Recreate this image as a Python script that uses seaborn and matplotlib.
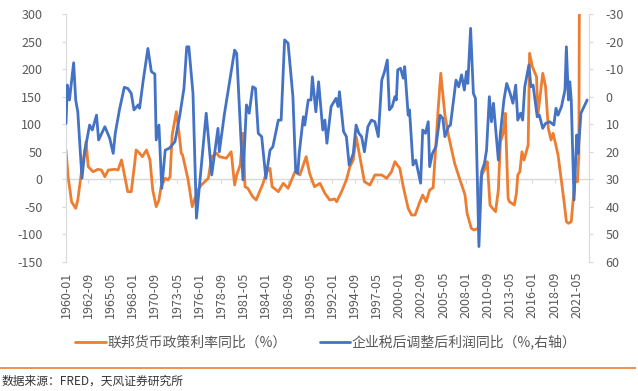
import pandas as pd
import matplotlib
matplotlib.use('Agg')
import matplotlib.pyplot as plt
import matplotlib.dates as mdates
from matplotlib.lines import Line2D
import seaborn as sns

# 联邦货币政策利率同比 (左轴, %)
rate_dates = ['1960-01', '1960-04', '1960-09', '1961-03', '1961-06', '1961-11', '1962-06', '1962-09',
              '1963-04', '1963-11', '1964-04', '1964-09', '1965-02', '1965-11', '1966-04', '1966-09',
              '1967-06', '1967-11', '1968-04', '1968-06', '1968-11', '1969-03', '1969-09', '1970-02',
              '1970-06', '1970-11', '1971-03', '1971-06', '1971-12', '1972-04', '1972-07', '1972-10',
              '1973-04', '1973-08', '1973-11', '1974-01', '1974-09', '1975-03', '1975-06', '1975-11',
              '1976-04', '1976-09', '1977-02', '1977-07', '1978-02', '1978-06', '1979-04', '1979-11',
              '1980-04', '1980-07', '1980-12', '1981-04', '1981-07', '1981-11', '1982-06', '1982-11',
              '1983-09', '1984-02', '1984-07', '1984-10', '1985-07', '1986-02', '1986-09', '1987-07',
              '1988-02', '1988-11', '1989-04', '1989-11', '1990-07', '1991-02', '1991-09', '1992-04',
              '1992-07', '1993-02', '1993-09', '1994-02', '1994-07', '1994-11', '1995-04', '1995-11',
              '1996-07', '1997-02', '1997-12', '1998-07', '1999-02', '1999-07', '2000-02', '2000-07',
              '2001-02', '2001-07', '2001-12', '2002-07', '2002-11', '2003-04', '2003-09', '2004-02',
              '2004-05', '2004-09', '2005-01', '2005-07', '2005-12', '2006-09', '2007-04', '2007-12',
              '2008-03', '2008-09', '2009-01', '2009-07', '2009-11', '2010-05', '2010-08', '2010-12',
              '2011-03', '2011-08', '2011-12', '2012-03', '2012-07', '2012-10', '2013-02', '2013-04',
              '2013-11', '2014-02', '2014-04', '2014-07', '2014-10', '2015-01', '2015-07', '2015-09',
              '2016-01', '2016-07', '2016-09', '2017-04', '2017-08', '2017-12', '2018-04', '2018-07',
              '2019-02', '2019-07', '2019-11', '2020-02', '2020-05', '2020-09', '2020-12', '2021-03',
              '2021-06', '2021-08', '2021-11']
rate_yoy = [53.2, 4.8, -40.6, -52.6, -37.5, 10.9, 68.3, 22.9,
            13.8, 18.2, 16.9, 4.8, 16.9, 18.2, 16.9, 35.1,
            -22.4, -22.4, 29.1, 53.2, 47.3, 41.1, 53.2, 35.1,
            -19.4, -49.6, -37.5, -13.4, 1.9, -1.2, 4.8, 80.4,
            122.7, 83.5, 47.3, 44.2, -1.2, -49.6, -37.5, -19.4,
            -10.3, -4.3, 1.9, 41.1, 47.3, 41.1, 38.2, 50.1,
            -10.3, 7.9, 26.0, 83.5, -13.4, -16.3, -31.5, -37.5,
            -7.2, 13.8, 19.9, -13.4, -22.4, -7.2, -16.3, 13.8,
            7.9, 41.1, 10.9, -13.4, -7.2, -25.3, -37.5, -35.7,
            -40.6, -22.4, -1.2, 22.9, 35.1, 77.4, 44.2, -4.3,
            -10.3, 7.9, 7.9, 1.9, 13.8, 32.0, 19.9, -13.4,
            -52.6, -64.7, -64.7, -40.6, -28.4, -40.6, -19.4, -15.2,
            44.2, 122.7, 192.4, 116.7, 80.4, 29.1, 1.9, -28.4,
            -61.7, -88.9, -91.9, -88.9, 5.0, 19.9, 32.0, -46.6,
            -51.5, -58.7, -19.4, 68.3, 83.5, 119.8, -34.4, -40.6,
            -46.6, -25.3, 7.9, 13.8, 50.1, 35.1, 62.3, 228.7,
            204.4, 186.2, 116.7, 192.4, 168.1, 92.6, 71.4, 83.5,
            44.2, -4.3, -43.5, -76.9, -79.8, -76.9, -34.4, 1.9,
            -4.3, 44.2, 1200]

# 企业税后调整后利润同比 (右轴, %, 逆序)
profit_dates = ['1960-01', '1960-03', '1960-06', '1960-12', '1961-03', '1961-06', '1961-12', '1962-04',
                '1962-11', '1963-03', '1963-09', '1963-12', '1964-09', '1965-04', '1965-09', '1965-12',
                '1966-06', '1967-01', '1967-06', '1967-11', '1968-03', '1968-09', '1968-11', '1969-04',
                '1969-11', '1970-04', '1970-09', '1970-11', '1971-03', '1971-07', '1971-12', '1972-06',
                '1973-02', '1973-09', '1974-03', '1974-07', '1974-10', '1975-04', '1975-09', '1976-11',
                '1977-07', '1978-04', '1978-06', '1979-01', '1980-04', '1980-07', '1981-04', '1981-09',
                '1982-01', '1982-06', '1982-10', '1983-02', '1983-07', '1984-01', '1984-07', '1984-11',
                '1985-07', '1985-11', '1986-04', '1986-09', '1987-04', '1987-08', '1987-11', '1988-01',
                '1988-07', '1988-09', '1989-02', '1989-06', '1989-08', '1990-01', '1990-05', '1990-11',
                '1991-02', '1991-05', '1991-11', '1992-06', '1992-09', '1992-11', '1993-05', '1993-09',
                '1994-01', '1994-07', '1994-11', '1995-03', '1995-07', '1995-11', '1996-04', '1996-09',
                '1997-02', '1997-07', '1997-12', '1998-04', '1998-08', '1998-11', '1999-03', '1999-07',
                '1999-09', '1999-11', '2000-03', '2000-07', '2000-09', '2001-02', '2001-04', '2001-09',
                '2002-01', '2002-03', '2002-08', '2002-11', '2003-03', '2003-07', '2003-09', '2004-01',
                '2004-06', '2004-12', '2005-04', '2005-07', '2005-12', '2006-03', '2006-11', '2007-03',
                '2007-07', '2007-11', '2008-02', '2008-04', '2008-08', '2008-12', '2009-03', '2009-08',
                '2009-12', '2010-04', '2010-07', '2010-11', '2011-02', '2011-05', '2011-12', '2012-03',
                '2012-08', '2012-12', '2013-05', '2013-09', '2014-01', '2014-04', '2014-08', '2014-11',
                '2015-02', '2015-08', '2015-11', '2016-02', '2016-08', '2016-11', '2017-04', '2017-08',
                '2018-02', '2018-08', '2018-11', '2019-02', '2019-07', '2019-12', '2020-02', '2020-05',
                '2020-07', '2020-09', '2021-01', '2021-05', '2021-07', '2021-11', '2022-08']
profit_yoy = [9.7, -4.2, 1.2, -12.3, 1.2, 5.5, 29.6, 20.0,
              10.3, 12.1, 6.7, 15.7, 10.9, 15.1, 20.6, 13.3,
              4.8, -3.4, -3.0, -1.2, 4.8, 3.0, 4.2, -5.4,
              -17.5, -9.1, -8.2, 15.7, 10.3, 33.3, 19.4, 18.7,
              16.3, 6.7, -3.0, -18.1, -18.1, -1.2, 44.1, 6.0,
              28.4, 11.5, 20.0, 6.7, -16.9, -15.7, 30.2, 3.0,
              6.0, -3.6, -3.0, 13.3, 14.5, 29.6, 19.4, 18.2,
              8.5, 8.5, -20.6, -19.4, 0.0, 27.2, 27.8, 20.6,
              7.3, 10.3, 1.2, 1.2, -7.2, 5.5, -5.4, 12.1,
              8.5, 16.9, 3.6, 0.6, 3.6, -1.8, 12.7, 14.5,
              24.8, 20.6, 10.3, 13.3, 14.5, 20.0, 10.9, 8.5,
              9.1, 14.5, -6.0, -9.1, -13.3, 4.8, 3.6, 0.0,
              1.2, -9.7, -10.3, -6.7, -10.9, 6.7, 4.8, 24.8,
              23.0, 25.4, 31.4, 12.1, 13.3, 9.1, 25.4, 20.6,
              18.2, 6.7, 7.9, 14.5, 10.9, 10.3, -6.0, -3.6,
              -7.9, -2.4, -9.1, -4.8, -24.8, -1.2, 0.6, 54.4,
              27.2, 24.2, 19.4, 0.0, 9.1, 2.4, 23.0, 13.3,
              1.2, -4.8, -1.2, 2.4, -4.2, 8.5, 6.0, 8.5,
              -3.6, -11.5, -3.6, -4.2, 7.3, 6.7, 11.5, 9.7,
              9.1, 10.3, 4.2, 6.7, 3.6, -2.4, -18.1, 1.2,
              -5.4, 1.2, 37.5, 13.9, 20.6, 6.0, 1.2]

left_ticks = list(range(-150, 301, 50))
right_ticks = list(range(-30, 61, 10))
x_ticks = pd.date_range('1960-01-01', periods=24, freq='32MS')

orange = '#ED7D31'
blue = '#4472C4'
grey = '#595959'
axis_grey = '#D9D9D9'

sns.set_style('white')
plt.rcParams['font.family'] = ['Noto Sans CJK SC', 'DejaVu Sans']
plt.rcParams['axes.unicode_minus'] = False

rate = pd.DataFrame({'x': mdates.date2num(pd.to_datetime(rate_dates)), 'v': rate_yoy})
profit = pd.DataFrame({'x': mdates.date2num(pd.to_datetime(profit_dates)), 'v': profit_yoy})

fig, ax = plt.subplots(figsize=(6.38, 3.91), dpi=100)
fig.subplots_adjust(left=66/638, right=589/638, top=1-14/391, bottom=1-262/391)
ax2 = ax.twinx()

sns.lineplot(data=rate, x='x', y='v', ax=ax, color=orange, linewidth=2, legend=False)
sns.lineplot(data=profit, x='x', y='v', ax=ax2, color=blue, linewidth=2, legend=False)

xt = mdates.date2num(x_ticks)
ax.set_xlim(mdates.date2num(pd.Timestamp('1960-01-01')), mdates.date2num(pd.Timestamp('2022-10-20')))
ax.set_xticks(xt)
ax.set_xticklabels(x_ticks.strftime('%Y-%m'), rotation=90, fontsize=9, color=grey)
ax.tick_params(axis='x', length=0, pad=7)

ax.set_ylim(-150, 300)
ax.set_yticks(left_ticks)
ax.set_yticklabels([str(t) for t in left_ticks], fontsize=9, color=grey)
ax.tick_params(axis='y', length=3, color=axis_grey, pad=14)

ax2.set_ylim(60, -30)
ax2.set_yticks(right_ticks)
ax2.set_yticklabels([str(t) for t in right_ticks], fontsize=9, color=grey)
ax2.tick_params(axis='y', length=3, color=axis_grey, pad=9)

for a in (ax, ax2):
    a.set_xlabel('')
    a.set_ylabel('')
    for s in a.spines.values():
        s.set_visible(False)
ax.spines['left'].set_visible(True)
ax.spines['left'].set_color(axis_grey)
ax2.spines['right'].set_visible(True)
ax2.spines['right'].set_color(axis_grey)

# 类别轴在 0 处
zero_axis = ax.secondary_xaxis(1/3)
zero_axis.set_xticks(xt)
zero_axis.tick_params(axis='x', length=3, color=axis_grey, labelbottom=False, labeltop=False)
zero_axis.spines['bottom'].set_color(axis_grey)
zero_axis.spines['bottom'].set_linewidth(1)

handles = [Line2D([], [], color=orange, lw=2), Line2D([], [], color=blue, lw=2)]
labels = ['联邦货币政策利率同比（%）', '企业税后调整后利润同比（%,右轴）']
leg = fig.legend(handles, labels, loc='center', bbox_to_anchor=(326/638, 1-342/391), ncol=2,
                 frameon=False, fontsize=10, handlelength=2.2, handletextpad=0.1, columnspacing=2.4)
for t in leg.get_texts():
    t.set_color(grey)

# 底部分隔线和数据来源
fig.add_artist(Line2D([0.0, 0.997], [0.06, 0.06], transform=fig.transFigure,
                      color=orange, linewidth=1.2, solid_capstyle='butt'))
fig.text(0.003, 0.024, '数据来源：FRED，天风证券研究所', fontsize=8.5, va='center', color='#333333')

fig.savefig('out.png', dpi=100, facecolor='white')
